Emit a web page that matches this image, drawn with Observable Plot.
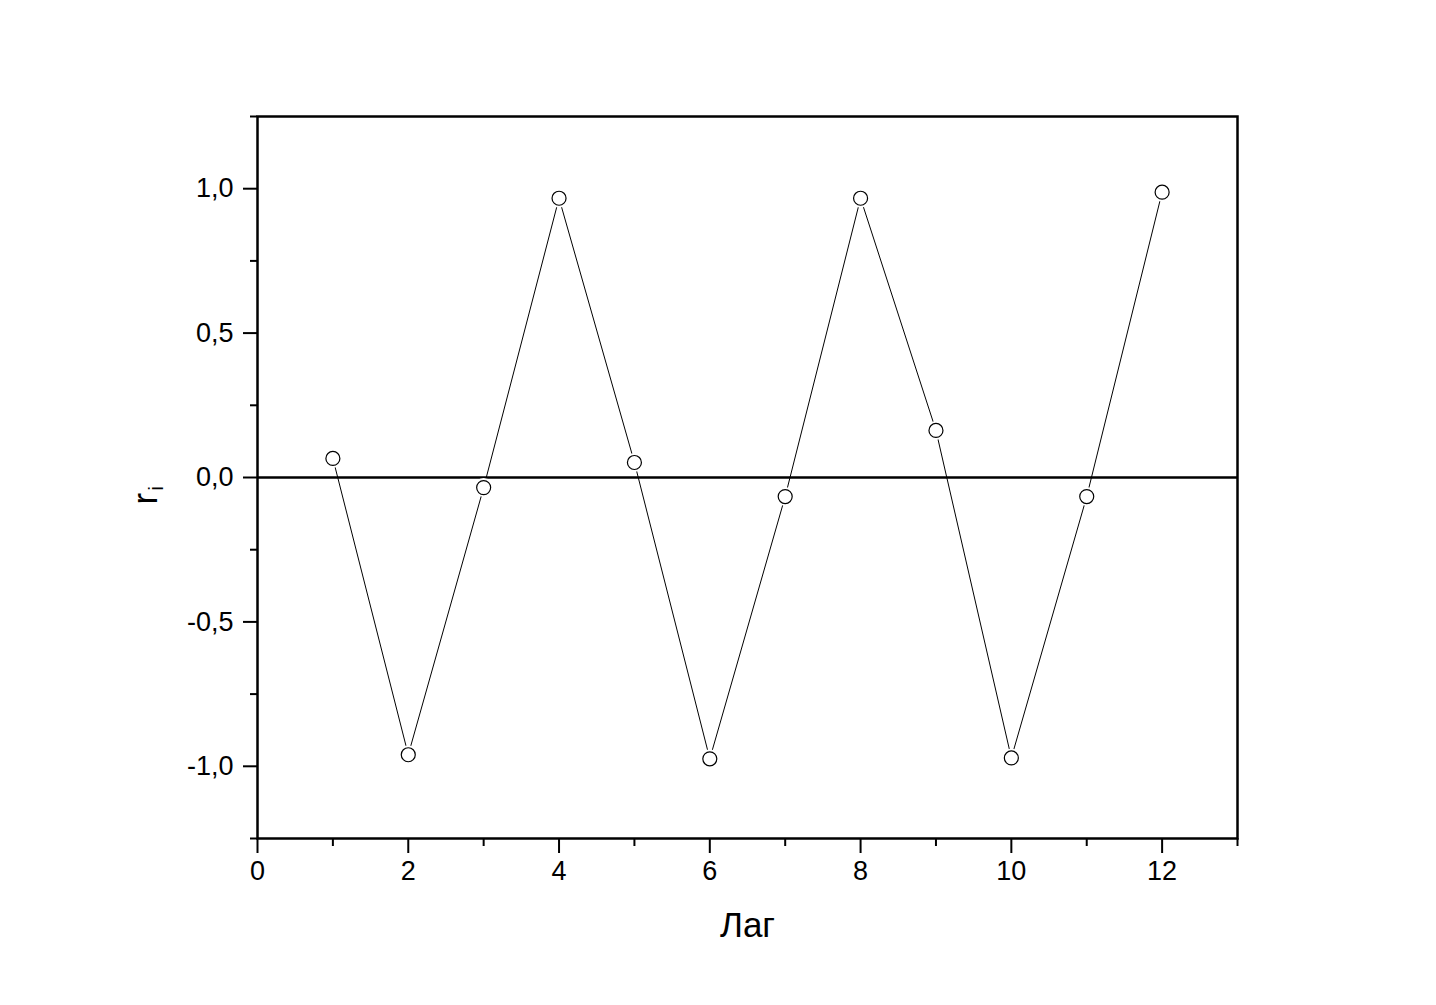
<!DOCTYPE html>
<html>
<head>
<meta charset="utf-8">
<script src="https://cdn.jsdelivr.net/npm/d3@7"></script>
<script src="https://cdn.jsdelivr.net/npm/@observablehq/plot@0.6"></script>
<style>
  html, body { margin: 0; padding: 0; background: #fff; }
  #chart svg { display: block; }
</style>
</head>
<body>
<div id="chart"></div>
<script>
const lags = [1, 2, 3, 4, 5, 6, 7, 8, 9, 10, 11, 12];
const acf = [0.066, -0.960, -0.035, 0.967, 0.052, -0.974, -0.066, 0.967, 0.163, -0.971, -0.066, 0.988];
const xMajor = [0, 2, 4, 6, 8, 10, 12];
const xMinor = [1, 3, 5, 7, 9, 11, 13];
const yMajor = [-1, -0.5, 0, 0.5, 1];
const yMinor = [-1.25, -0.75, -0.25, 0.25, 0.75, 1.25];
const xTitle = "Лаг";
const yTitle = "r";
const yTitleSub = "i";

const data = lags.map((l, i) => ({lag: l, r: acf[i]}));
const fmt = d => d.toFixed(1).replace(".", ",");
const font = "Liberation Sans, Arial, sans-serif";

const chart = Plot.plot({
  width: 1436,
  height: 1005,
  marginLeft: 257,
  marginRight: 199,
  marginTop: 116,
  marginBottom: 167,
  style: {fontFamily: font, fontSize: "27px", color: "#000", background: "#fff"},
  x: {domain: [0, 13]},
  y: {domain: [-1.25, 1.25]},
  marks: [
    Plot.axisX({ticks: xMajor, tickSize: 15, tickPadding: 7, tickFormat: d => String(d), label: null, strokeWidth: 2, fontSize: 27}),
    Plot.axisX({ticks: xMinor, tickSize: 8, tickFormat: () => "", label: null, strokeWidth: 2}),
    Plot.axisY({ticks: yMajor, tickSize: 14, tickPadding: 10, tickFormat: fmt, label: null, strokeWidth: 2, fontSize: 27}),
    Plot.axisY({ticks: yMinor, tickSize: 7, tickFormat: () => "", label: null, strokeWidth: 2}),
    Plot.line(data, {x: "lag", y: "r", stroke: "#000", strokeWidth: 1}),
    Plot.ruleY([0], {stroke: "#000", strokeWidth: 2.5}),
    Plot.frame({stroke: "#000", strokeWidth: 2.5}),
    Plot.dot(data, {x: "lag", y: "r", r: 9.5, fill: "#fff", stroke: "none"}),
    Plot.dot(data, {x: "lag", y: "r", r: 7, fill: "#fff", stroke: "#000", strokeWidth: 1.2}),
    Plot.text([xTitle], {frameAnchor: "bottom", dy: 98, fontSize: 35, fill: "#000", fontFamily: font}),
    Plot.text([yTitle], {frameAnchor: "left", dx: -112, dy: 27, rotate: -90, fontSize: 35, fill: "#000", fontFamily: font}),
    Plot.text([yTitleSub], {frameAnchor: "left", dx: -101, dy: 13, rotate: -90, fontSize: 20, fill: "#000", fontFamily: font})
  ]
});
document.getElementById("chart").appendChild(chart);
</script>
</body>
</html>
